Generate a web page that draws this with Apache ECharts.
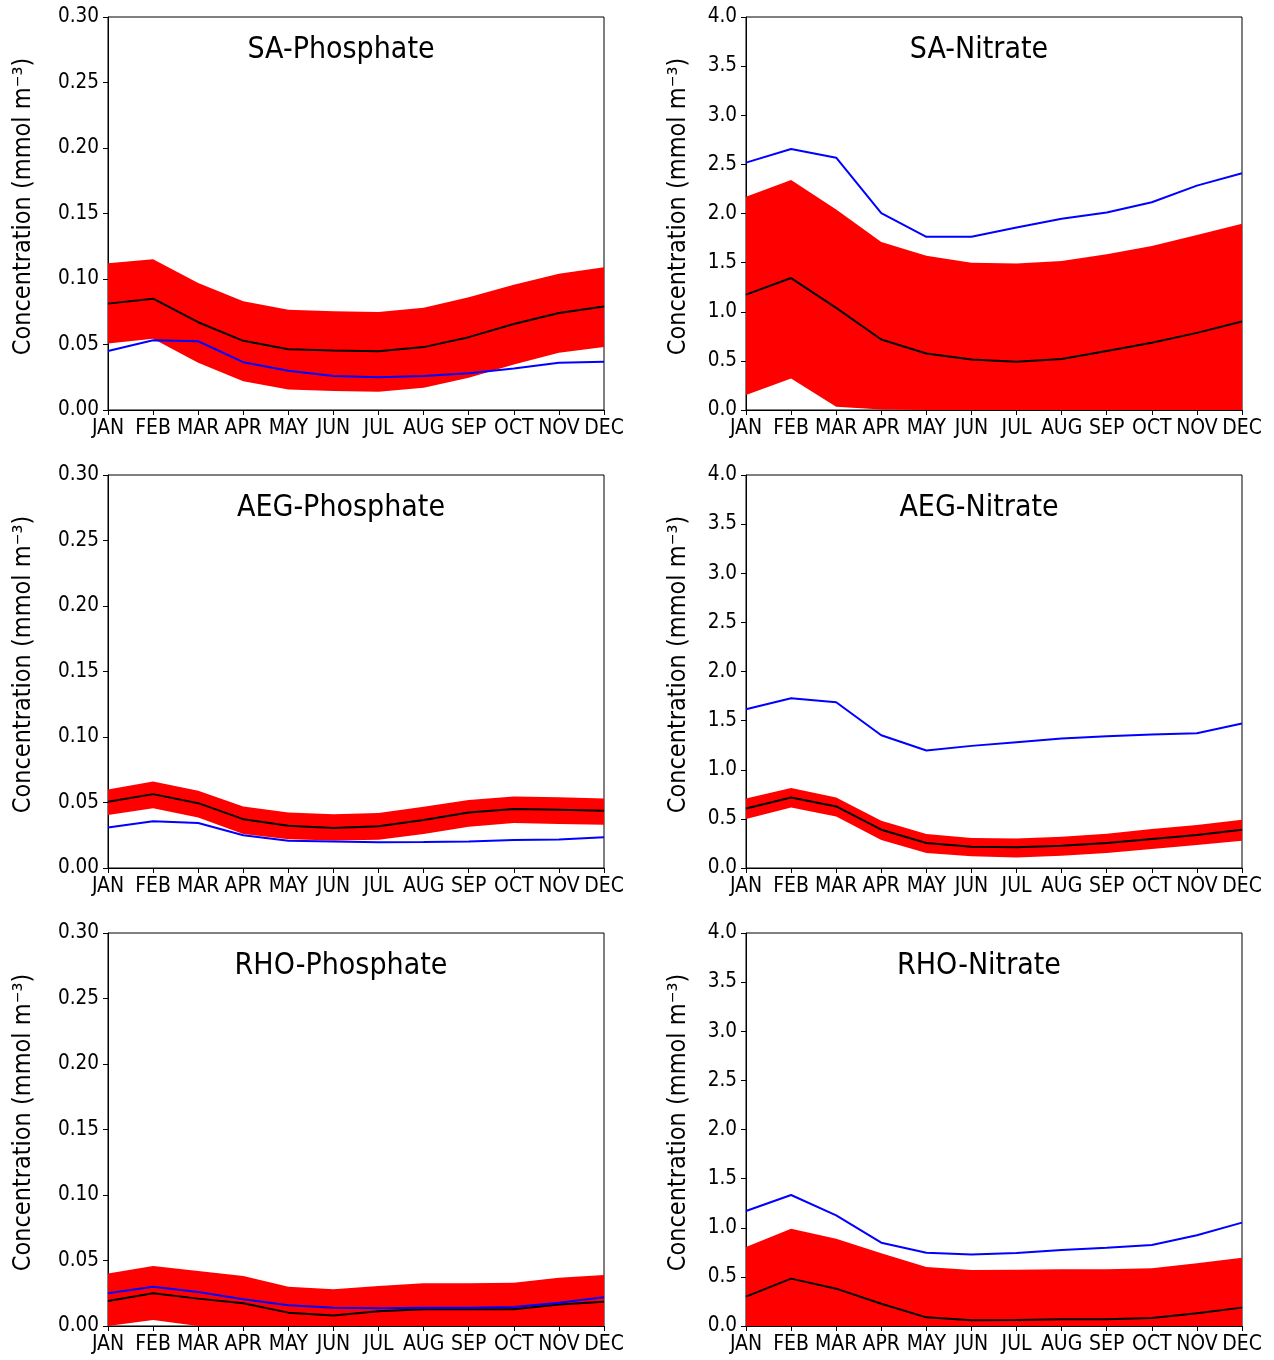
<!DOCTYPE html>
<html>
<head>
<meta charset="utf-8">
<script src="https://cdn.jsdelivr.net/npm/echarts@6/dist/echarts.min.js"></script>
<style>
html, body { margin: 0; padding: 0; background: #fff; }
#main { width: 1274px; height: 1360px; }
</style>
</head>
<body>
<div id="main"></div>
<script type="text/javascript">
var months = ['JAN', 'FEB', 'MAR', 'APR', 'MAY', 'JUN', 'JUL', 'AUG', 'SEP', 'OCT', 'NOV', 'DEC'];

// y axis ticks
var phosMax = 0.30, phosStep = 0.05, phosDigits = 2;
var nitMax = 4.0, nitStep = 0.5, nitDigits = 1;

// SA
var saPhosUpper = [0.112, 0.115, 0.097, 0.083, 0.0766, 0.0754, 0.0749, 0.078, 0.086, 0.0957, 0.104, 0.109];
var saPhosLower = [0.0508, 0.0543, 0.036, 0.022, 0.0157, 0.0145, 0.014, 0.017, 0.0246, 0.0348, 0.0437, 0.048];
var saPhosMean  = [0.0812, 0.085, 0.067, 0.0528, 0.0464, 0.0454, 0.0449, 0.048, 0.0556, 0.0657, 0.0741, 0.079];
var saPhosBlue  = [0.045, 0.0533, 0.0525, 0.0365, 0.030, 0.026, 0.025, 0.026, 0.028, 0.0317, 0.036, 0.0368];

var saNitUpper = [2.17, 2.34, 2.04, 1.71, 1.57, 1.50, 1.49, 1.516, 1.584, 1.67, 1.78, 1.895];
var saNitLower = [0.152, 0.32, 0.034, 0.005, 0, 0, 0, 0, 0, 0, 0, 0];
var saNitMean  = [1.174, 1.343, 1.039, 0.717, 0.575, 0.514, 0.49, 0.52, 0.6, 0.684, 0.785, 0.9];
var saNitBlue  = [2.518, 2.656, 2.568, 2.003, 1.763, 1.763, 1.858, 1.946, 2.01, 2.115, 2.284, 2.41];

// AEG
var aegPhosUpper = [0.060, 0.066, 0.059, 0.047, 0.0424, 0.041, 0.042, 0.0467, 0.052, 0.0546, 0.054, 0.053];
var aegPhosLower = [0.0404, 0.0457, 0.0386, 0.026, 0.022, 0.021, 0.0216, 0.026, 0.0315, 0.0343, 0.0335, 0.033];
var aegPhosMean  = [0.0506, 0.0564, 0.0495, 0.0373, 0.0323, 0.0305, 0.0318, 0.0366, 0.0424, 0.045, 0.0445, 0.0437];
var aegPhosBlue  = [0.031, 0.0356, 0.0343, 0.025, 0.0208, 0.0203, 0.0196, 0.0198, 0.0203, 0.0213, 0.0218, 0.0234];

var aegNitUpper = [0.708, 0.813, 0.718, 0.481, 0.345, 0.305, 0.301, 0.318, 0.349, 0.396, 0.437, 0.491];
var aegNitLower = [0.498, 0.616, 0.525, 0.284, 0.152, 0.119, 0.108, 0.125, 0.152, 0.193, 0.234, 0.278];
var aegNitMean  = [0.606, 0.718, 0.627, 0.39, 0.254, 0.217, 0.21, 0.227, 0.254, 0.295, 0.335, 0.39];
var aegNitBlue  = [1.616, 1.727, 1.687, 1.351, 1.196, 1.243, 1.28, 1.317, 1.341, 1.358, 1.372, 1.47];

// RHO
var rhoPhosUpper = [0.040, 0.0458, 0.042, 0.0382, 0.030, 0.028, 0.0305, 0.0326, 0.0326, 0.033, 0.0369, 0.039];
var rhoPhosLower = [0, 0.0046, 0, 0, 0, 0, 0, 0, 0, 0, 0, 0];
var rhoPhosMean  = [0.019, 0.025, 0.0209, 0.0173, 0.0102, 0.0081, 0.0112, 0.0127, 0.0127, 0.0127, 0.0165, 0.0186];
var rhoPhosBlue  = [0.025, 0.030, 0.026, 0.0204, 0.0158, 0.014, 0.0135, 0.014, 0.014, 0.0145, 0.0178, 0.0219];

var rhoNitUpper = [0.804, 0.99, 0.889, 0.74, 0.6, 0.57, 0.573, 0.577, 0.577, 0.587, 0.638, 0.695];
var rhoNitLower = [0, 0, 0, 0, 0, 0, 0, 0, 0, 0, 0, 0];
var rhoNitMean  = [0.299, 0.482, 0.38, 0.227, 0.088, 0.058, 0.061, 0.068, 0.068, 0.081, 0.129, 0.187];
var rhoNitBlue  = [1.17, 1.333, 1.126, 0.848, 0.746, 0.729, 0.743, 0.774, 0.797, 0.824, 0.923, 1.052];

var panels = [
    {title: 'SA-Phosphate',  phos: true,  upper: saPhosUpper,  lower: saPhosLower,  mean: saPhosMean,  blue: saPhosBlue},
    {title: 'SA-Nitrate',    phos: false, upper: saNitUpper,   lower: saNitLower,   mean: saNitMean,   blue: saNitBlue},
    {title: 'AEG-Phosphate', phos: true,  upper: aegPhosUpper, lower: aegPhosLower, mean: aegPhosMean, blue: aegPhosBlue},
    {title: 'AEG-Nitrate',   phos: false, upper: aegNitUpper,  lower: aegNitLower,  mean: aegNitMean,  blue: aegNitBlue},
    {title: 'RHO-Phosphate', phos: true,  upper: rhoPhosUpper, lower: rhoPhosLower, mean: rhoPhosMean, blue: rhoPhosBlue},
    {title: 'RHO-Nitrate',   phos: false, upper: rhoNitUpper,  lower: rhoNitLower,  mean: rhoNitMean,  blue: rhoNitBlue}
];

var font = '"DejaVu Sans Condensed", "DejaVu Sans"';
var lefts = [108, 746];
var tops = [17, 475, 933];
var plotW = 496, plotH = 393;

var chart = echarts.init(document.getElementById('main'));
var grid = [], xAxis = [], yAxis = [], series = [], graphic = [];

panels.forEach(function (p, i) {
    var col = i % 2, row = Math.floor(i / 2);
    grid.push({
        left: lefts[col], top: tops[row], width: plotW, height: plotH,
        show: true, borderColor: '#000', borderWidth: 1, backgroundColor: 'transparent'
    });
    xAxis.push({
        type: 'category', gridIndex: i, data: months, boundaryGap: false,
        axisLine: {lineStyle: {color: '#000', width: 1}},
        axisTick: {show: true, length: 5, alignWithLabel: true, lineStyle: {color: '#000'}},
        axisLabel: {interval: 0, color: '#000', fontSize: 21, fontFamily: font, margin: 8},
        splitLine: {show: false}
    });
    var digits = p.phos ? phosDigits : nitDigits;
    yAxis.push({
        type: 'value', gridIndex: i, min: 0,
        max: p.phos ? phosMax : nitMax,
        interval: p.phos ? phosStep : nitStep,
        name: 'Concentration (mmol m\u207B\u00B3)',
        nameLocation: 'middle', nameRotate: 90,
        nameGap: p.phos ? 72 : 55,
        nameTextStyle: {color: '#000', fontSize: 25, fontFamily: font, padding: [0, 0, 0, 14]},
        axisLine: {show: true, lineStyle: {color: '#000', width: 1}},
        axisTick: {show: true, length: 5, lineStyle: {color: '#000'}},
        axisLabel: {color: '#000', fontSize: 20.5, fontFamily: font, margin: 9,
            formatter: function (v) { return v.toFixed(digits); }},
        splitLine: {show: false}
    });

    var band = p.upper.map(function (u, k) { return +(u - p.lower[k]).toFixed(5); });
    series.push({
        type: 'line', xAxisIndex: i, yAxisIndex: i, stack: 'band' + i,
        data: p.lower, symbol: 'none', silent: true,
        lineStyle: {opacity: 0}
    });
    series.push({
        type: 'line', xAxisIndex: i, yAxisIndex: i, stack: 'band' + i,
        data: band, symbol: 'none', silent: true,
        lineStyle: {opacity: 0},
        areaStyle: {color: '#ff0000', opacity: 1}
    });
    series.push({
        type: 'line', xAxisIndex: i, yAxisIndex: i,
        data: p.mean, symbol: 'none',
        lineStyle: {color: '#000000', width: 2}
    });
    series.push({
        type: 'line', xAxisIndex: i, yAxisIndex: i,
        data: p.blue, symbol: 'none',
        lineStyle: {color: '#0000ff', width: 2}
    });

    graphic.push({
        type: 'text',
        x: lefts[col] + 233, y: tops[row] + 33,
        style: {
            text: p.title, fill: '#000', fontSize: 30, fontFamily: font,
            textAlign: 'center', textVerticalAlign: 'middle'
        }
    });
});

var option = {
    animation: false,
    backgroundColor: '#fff',
    grid: grid,
    xAxis: xAxis,
    yAxis: yAxis,
    series: series,
    graphic: graphic
};

chart.setOption(option);
</script>
</body>
</html>
